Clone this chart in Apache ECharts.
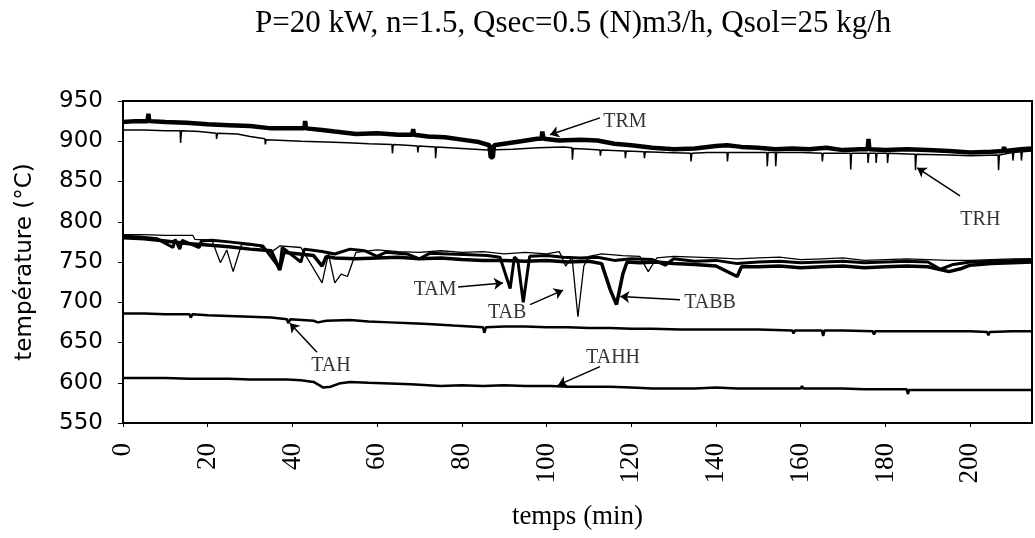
<!DOCTYPE html>
<html lang="fr">
<head>
	<meta charset="UTF-8">
	<title>températures</title>
	<style type="text/css">
		body{ margin: 0; background: #fff; }
		#container{ width: 1035px; height: 538px; }
	</style>
	<script type="text/javascript" src="https://cdn.jsdelivr.net/npm/echarts/dist/echarts.min.js"></script>
</head>
<body>
	<div id="container"></div>
	<script type="text/javascript">
	// valeurs : [temps (min), température (°C)]
	var xTicks = [0, 20, 40, 60, 80, 100, 120, 140, 160, 180, 200];
	var yTicks = [550, 600, 650, 700, 750, 800, 850, 900, 950];

	var TRM = [[0,924],[3,925],[5.8,925],[6,934],[6.2,925],[10,924],[15,923],[20,921],[25,920],[30,919],[35,916],[40,916],[42.8,916],
		[43,925],[43.2,916],[47,914],[50,912],[55,909],[60,910],[65,908],[68.3,908],[68.5,915],[68.7,908],[72,906],[76,905],[80,902],
		[84,899],[86.5,895],[86.8,880],[87.3,880],[87.6,895],[90,897],[94,900],[97.8,903],[98.8,903],[99,912],[99.3,903],[103,901],
		[108,902],[112,901],[116,897],[120,895],[125,892],[130,890],[135,891],[140,894],[142.6,895],[146,893],[150,892],[154,890],
		[158,891],[162,890],[166,892],[170,889],[174,890],[175.8,890],[176,903],[176.2,890],[180,889],[185,890],[190,889],[195,888],
		[200,886],[205,887],[207.8,888],[208,893],[208.2,888],[212,890],[214.6,891]];

	var TRH = [[0,914],[5,914],[10,913],[13.5,913],[13.6,898],[13.8,913],[18,912],[22,910],[22.1,903],[22.3,910],[27,909],[30,906],
		[33.5,903],[33.6,896],[33.8,902],[38,901],[42,900],[48,899],[53,898],[58,897],[63.5,896],[63.6,885],[63.8,896],[67,895],
		[69.5,894],[69.6,886],[69.8,894],[73.7,893],[73.8,879],[74,893],[80,891],[86,889],[92,890],[98,892],[104,893],[106,892],
		[106.1,877],[106.3,891],[110,890],[112.6,889],[112.7,882],[112.9,889],[118.5,888],[118.6,879],[118.8,888],[123,887],[123.1,879],
		[123.3,887],[128,886],[134,885],[134.1,875],[134.3,885],[138,886],[142.6,886],[142.7,875],[142.9,886],[148,886],[152,886],
		[152.1,869],[152.3,886],[154,886],[154.1,869],[154.3,886],[160,886],[165,885],[165.1,875],[165.3,885],[170,885],[171.7,885],
		[171.8,865],[172,885],[175.8,885],[175.9,873],[176.1,885],[177.7,885],[177.8,873],[178,885],[180.4,885],[180.5,873],[180.7,885],
		[187,884],[187.1,864],[187.3,884],[195,883],[200,882],[206.6,883],[206.7,864],[206.9,883],[210,886],[210.1,876],[210.3,886],
		[212,887],[212.1,876],[212.3,887],[214.6,888]];

	var TAM = [[0,782],[4,781],[8,779],[11.8,768],[12.3,778],[13.4,766],[14,777],[18,768],[18.5,776],[21,777],[25,775],[30,772],[33,770],
		[37,742],[37.6,768],[42,750],[42.8,766],[47,763],[50,760],[53.6,766],[57,764],[60,757],[62,762],[67,760],[70,754],[72.5,761],
		[77,760],[82,759],[86,758],[89,756],[91.4,717],[92.4,756],[93.2,752],[94.5,700],[96,757],[100,758],[104,756],[108,755],
		[112,756],[116,752],[120,754],[125,753],[128,746],[130,754],[135,751],[140,752],[145,748],[150,750],[155,751],[160,749],
		[165,750],[170,751],[175,749],[180,750],[185,751],[190,750],[193,741],[196,747],[200,750],[205,751],[210,752],[214.6,753]];

	var TAB = [[0,784],[5,784],[10,783],[16.5,783],[17,778],[21,777],[23,749],[24.5,765],[26,738],[28,772],[32,770],[35,762],[37,770],
		[42,768],[47,724],[48.5,760],[50,724],[51.5,735],[53,732],[55,762],[60,765],[65,763],[70,762],[75,764],[80,762],[85,763],
		[90,760],[95,762],[100,760],[103,763],[104.5,745],[106,756],[107.4,682],[108.8,745],[110,757],[113,760],[118,758],[122,757],
		[124,738],[126,755],[130,757],[135,756],[140,755],[145,754],[150,755],[155,756],[160,753],[165,754],[170,755],[175,752],
		[180,753],[185,754],[190,753],[195,752],[200,752],[205,753],[210,754],[214.6,754]];

	var TABB = [[0,780],[5,779],[10,776],[15,773],[20,771],[25,769],[30,766],[35,764],[37,740],[38,762],[40,761],[45,758],[47,745],
		[48,757],[50,755],[55,754],[60,755],[65,756],[70,754],[75,755],[80,753],[85,752],[90,752],[95,751],[100,752],[105,750],
		[110,751],[113,748],[115,716],[116.5,697],[118,735],[119,750],[122,749],[126,750],[130,748],[135,747],[140,745],[145,732],
		[146,744],[150,744],[155,745],[160,743],[165,744],[170,745],[175,743],[180,744],[185,745],[190,744],[195,738],[198,742],
		[200,746],[205,748],[210,749],[214.6,750]];

	var TAH = [[0,686],[5,686],[10,685],[15.7,685],[16,681],[16.4,685],[20,684],[25,683],[30,682],[35,681],[38.7,679],[39,674],
		[39.5,679],[45,677],[46,675],[48,677],[53.6,678],[58,676],[63,675],[68,674],[72,673],[78,671],[82,670],[85,669],[85.3,662],
		[85.7,669],[90,670],[95,670],[100,669],[105,669],[110,668],[115,668],[120,667],[125,667],[131.5,666],[135,666],[140,666],
		[145,666],[150,666],[158,665],[158.3,661],[158.6,665],[165,665],[165.3,658],[165.6,665],[170,665],[177,664],[177.3,660],
		[177.6,664],[185,664],[190,664],[195,664],[200,664],[204,663],[204.3,659],[204.6,663],[210,664],[214.6,664]];

	var TAHH = [[0,606],[5,606],[10,606],[15.7,605],[20,605],[25,605],[30,604],[35,604],[38.7,604],[42,603],[45,601],[47.3,594],
		[49,595],[51,599],[53.6,601],[58,600],[63,599],[68,598],[75,596],[80,597],[85,596],[90,597],[95,596],[101,596],[105,595],
		[110,595],[115,595],[120,594],[125,593],[131.5,593],[135,593],[140,594],[145,593],[150,593],[155,593],[160,593],[160.3,596],
		[160.6,593],[165,593],[170,593],[175,592],[180,592],[185,592],[185.3,586],[185.6,591],[190,591],[195,591],[200,591],
		[205,591],[210,591],[214.6,591]];

	// étiquettes des courbes et flèches (en coordonnées du graphe)
	var annotLabels = [[118.5,924,'TRM'],[202.4,802,'TRH'],[73.7,715,'TAM'],[90.7,687,'TAB'],[138.6,699,'TABB'],[49.1,621,'TAH'],[115.7,631,'TAHH']];
	var annotArrows = [[112.6,929,100.8,908],[197.6,832,187.5,867],[79.1,719,89.7,724],[96.1,697,103.9,715],[131.5,703,117.4,707],
		[45.8,638,39.4,674],[112.6,620,102.7,597]];

	var dom = document.getElementById("container");
	var myChart = echarts.init(dom);
	var serif = '"Liberation Serif", "Times New Roman", serif';

	function courbe(name, data, width) {
		return {
			name: name,
			type: 'line',
			data: data,
			showSymbol: false,
			lineStyle: { color: '#000', width: width },
			z: 3
		};
	}

	var option = {
		animation: false,
		backgroundColor: '#fff',
		title: {
			text: 'P=20 kW, n=1.5, Qsec=0.5 (N)m3/h, Qsol=25 kg/h',
			left: 250,
			top: 3,
			textStyle: { fontFamily: serif, fontSize: 31, fontWeight: 'normal', color: '#000' }
		},
		grid: {
			left: 123, right: 3, top: 101, bottom: 115,
			show: true, borderColor: '#000', borderWidth: 2
		},
		xAxis: {
			type: 'value',
			min: 0, max: 214.6, interval: 20,
			name: 'temps (min)',
			nameLocation: 'middle',
			nameGap: 80,
			nameTextStyle: { fontFamily: serif, fontSize: 27, color: '#000' },
			axisLine: { lineStyle: { color: '#000', width: 2 } },
			axisTick: { length: 4, lineStyle: { color: '#000' } },
			axisLabel: {
				rotate: 90, margin: 20, fontFamily: serif, fontSize: 27, color: '#000',
				showMaxLabel: false,
				formatter: function (v) { return xTicks.indexOf(v) >= 0 ? String(v) : ''; }
			},
			splitLine: { show: false }
		},
		yAxis: {
			type: 'value',
			min: yTicks[0], max: yTicks[yTicks.length - 1], interval: 50,
			name: 'température (°C)',
			nameLocation: 'middle',
			nameGap: 86,
			nameTextStyle: { fontFamily: '"DejaVu Sans", sans-serif', fontSize: 23, color: '#000' },
			axisLine: { show: true, lineStyle: { color: '#000', width: 2 } },
			axisTick: { show: true, length: 5, lineStyle: { color: '#000' } },
			axisLabel: { margin: 20, fontFamily: '"DejaVu Sans", sans-serif', fontSize: 23, color: '#000' },
			splitLine: { show: false }
		},
		series: [
			courbe('TRM', TRM, 4.5),
			courbe('TRH', TRH, 1.5),
			courbe('TAM', TAM, 3),
			courbe('TAB', TAB, 1.3),
			courbe('TABB', TABB, 3.5),
			courbe('TAH', TAH, 2.5),
			courbe('TAHH', TAHH, 2.5),
			{
				name: 'annotations',
				type: 'scatter',
				data: annotLabels,
				symbolSize: 1,
				itemStyle: { color: 'rgba(0,0,0,0)' },
				silent: true,
				z: 5,
				label: {
					show: true,
					position: 'inside',
					fontFamily: serif,
					fontSize: 20,
					color: '#000',
					formatter: function (p) { return p.value[2]; }
				},
				markLine: {
					silent: true,
					symbol: ['none', 'arrow'],
					symbolSize: 9,
					label: { show: false },
					lineStyle: { color: '#000', width: 1.5, type: 'solid' },
					data: annotArrows.map(function (a) {
						return [{ coord: [a[0], a[1]] }, { coord: [a[2], a[3]] }];
					})
				}
			}
		]
	};

	if (option && typeof option === "object") {
		myChart.setOption(option, true);
	}
	</script>
</body>
</html>
